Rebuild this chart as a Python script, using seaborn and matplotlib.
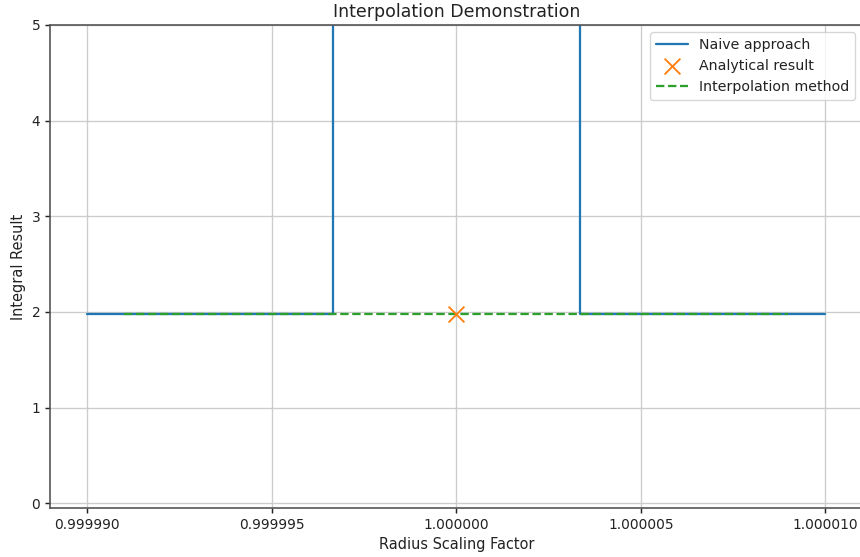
import numpy as np
import pandas as pd
import matplotlib
matplotlib.use("Agg")
import matplotlib.pyplot as plt
from matplotlib.ticker import FormatStrFormatter
import seaborn as sns

# Data
naive_x = [0.99999, 0.99999665, 0.99999665, 1.00000335, 1.00000335, 1.00001]
naive_y = [1.983, 1.983, 1000.0, 1000.0, 1.983, 1.983]
analytic_x = [1.0]
analytic_y = [1.983]
interp_x = [0.999991, 1.000009]
interp_y = [1.983, 1.983]
x_ticks = [0.99999, 0.999995, 1.0, 1.000005, 1.00001]
y_ticks = [0, 1, 2, 3, 4, 5]

sns.set_style("whitegrid", {
    "axes.edgecolor": "#555555",
    "grid.color": "#cccccc",
    "xtick.bottom": True,
    "ytick.left": True,
    "xtick.color": "#222222",
    "ytick.color": "#222222",
    "axes.labelcolor": "#222222",
    "text.color": "#222222",
    "axes.spines.right": False,
})
plt.rcParams["font.family"] = ["DejaVu Sans"]
plt.rcParams["font.size"] = 10
plt.rcParams["axes.linewidth"] = 1.25
plt.rcParams["xtick.major.size"] = 4
plt.rcParams["ytick.major.size"] = 4
plt.rcParams["xtick.major.width"] = 1.1
plt.rcParams["ytick.major.width"] = 1.1

fig = plt.figure(figsize=(860 / 96, 557 / 96), dpi=96)
ax = fig.add_axes([50.3 / 860, 49 / 557, 812 / 860, 483 / 557])

pal = sns.color_palette("tab10")
df_n = pd.DataFrame({"x": naive_x, "y": naive_y})
sns.lineplot(data=df_n, x="x", y="y", sort=False, estimator=None, color=pal[0],
             linewidth=1.7, label="Naive approach", ax=ax)
sns.scatterplot(x=analytic_x, y=analytic_y, marker="x", s=140, color=pal[1],
                linewidth=1.4, label="Analytical result", ax=ax, zorder=3)
df_i = pd.DataFrame({"x": interp_x, "y": interp_y})
sns.lineplot(data=df_i, x="x", y="y", sort=False, estimator=None, color=pal[2],
             linewidth=1.7, linestyle="--", label="Interpolation method", ax=ax)

span = naive_x[-1] - naive_x[0]
ax.set_xlim(naive_x[0] - 0.05 * span, naive_x[-1] + 0.05 * span)
ax.set_ylim(-0.05, 5)
ax.set_xticks(x_ticks)
ax.set_yticks(y_ticks)
ax.xaxis.set_major_formatter(FormatStrFormatter("%.6f"))
ax.grid(True, color="#cccccc", linewidth=1.0)
ax.set_xlabel("Radius Scaling Factor", fontsize=10.9)
ax.set_ylabel("Integral Result", fontsize=10.9)
ax.set_title("Interpolation Demonstration", fontsize=13)
ax.tick_params(labelsize=10.3)

leg = ax.legend(loc="upper right", fontsize=10.6, frameon=True, handlelength=2.3)
leg.get_frame().set_edgecolor("#cccccc")

fig.savefig("out.png", dpi=96)
